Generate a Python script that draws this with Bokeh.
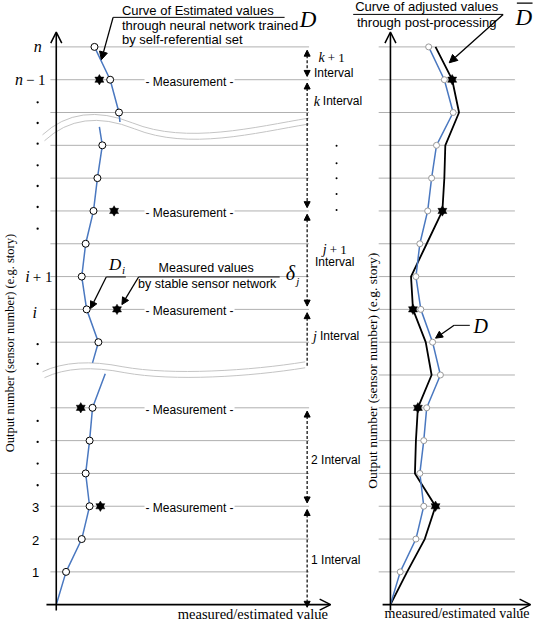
from math import pi
from bokeh.plotting import figure
from bokeh.models import Range1d, Arrow, NormalHead, OpenHead
from bokeh.core.properties import value
from bokeh.embed import file_html
from bokeh.resources import INLINE

# ---------------- data ----------------
rows = list(range(18))                      # 0 = origin ... 17 = n
estimated = [0, 10, 26, 34, 30, 34, 37, 51, 43, 31, 26, 30, 38, 42, 47, 64, 55, 39]   # D
adjusted = [0, 17, 35, 46, 25, 26, 28, 42, 36, 23, 21, 37, 53, 55, 56, 70, 63, 46]    # D-bar
meas_rows = [3, 6, 9, 12, 16]
meas_left = [45, 25, 62, 59, 44]            # measured values (left sketch)
gap_row = 7                                 # row hidden by the lower break in left panel
# curve stubs at the two breaks (row level, value)
stub_upper_rows = [14.71, 14.56]
stub_upper_vals = [65, 44]
stub_lower_rows = [7.37, 7.04]
stub_lower_vals = [37, 50]
tick_rows = [17, 16, 10, 9, 3, 2, 1]
tick_labels = ["n", "n − 1", "i + 1", "i", "3", "2", "1"]
interval_bounds = [(17, 16), (16, 12), (12, 9), (9, None), (6, 3), (3, 0)]

# -------------- helpers (reference-pixel placement) --------------
def LX(r): return r - 62
def RX(r): return r - 403
def LY(r): return (612 - r) / 33.24

BLUE = "#4a78c0"
GRID = "#b0b0b0"
SANS = "Liberation Sans"
SERIF = "Liberation Serif"

p = figure(width=534, height=625, x_range=Range1d(LX(5.1), LX(550)), y_range=Range1d(LY(633.1), LY(-0.08)),
           output_backend="svg", toolbar_location=None, min_border=0,
           x_axis_type=None, y_axis_type=None)
p.extra_x_ranges = {"right": Range1d(RX(5.1), RX(550))}
p.grid.visible = False
p.outline_line_color = None
p.background_fill_color = "white"


def txt(x, y, s, size, font=SANS, style="normal", align="left", baseline="middle",
        rng="default", angle=0, bg=None):
    kw = dict(x=[x], y=[y], text=[s], text_font=value(font), text_font_size=f"{size}px",
              text_font_style=style, text_align=align, text_baseline=baseline,
              text_color="black", angle=angle, x_range_name=rng)
    if bg:
        kw.update(background_fill_color=bg, padding=1)
    p.text(**kw)


# ---------------- LEFT PANEL ----------------
left_grid = [r for r in rows[1:] if r != gap_row]
p.segment(x0=[-6] * len(left_grid), x1=[258] * len(left_grid), y0=left_grid, y1=left_grid,
          line_color=GRID, line_width=1)

# break waves
for dy, dx in [(0, 0), (6, 2)]:
    p.quadratic(x0=[LX(48 + dx)], y0=[LY(136 + dy)], x1=[LX(140 + dx)], y1=[LY(124 + dy)],
                cx=[LX(85 + dx)], cy=[LY(102 + dy)], line_color="#c4c4c4", line_width=1)
    p.bezier(x0=[LX(140 + dx)], y0=[LY(124 + dy)], x1=[LX(320)], y1=[LY(119 + dy)],
             cx0=[LX(195 + dx)], cy0=[LY(146 + dy)], cx1=[LX(265)], cy1=[LY(128 + dy)],
             line_color="#c4c4c4", line_width=1)
    p.quadratic(x0=[LX(48 + dx)], y0=[LY(376 + dy)], x1=[LX(130 + dx)], y1=[LY(371 + dy)],
                cx=[LX(80 + dx)], cy=[LY(361 + dy)], line_color="#c4c4c4", line_width=1)
    p.bezier(x0=[LX(130 + dx)], y0=[LY(371 + dy)], x1=[LX(316)], y1=[LY(366 + dy)],
             cx0=[LX(180 + dx)], cy0=[LY(380 + dy)], cx1=[LX(260)], cy1=[LY(375 + dy)],
             line_color="#c4c4c4", line_width=1)

# estimated curve, broken at the two waves
seg_top_x = [estimated[r] for r in (17, 16, 15)] + [stub_upper_vals[0]]
seg_top_y = [17, 16, 15, stub_upper_rows[0]]
seg_mid_x = [stub_upper_vals[1]] + [estimated[r] for r in range(14, 7, -1)] + [stub_lower_vals[0]]
seg_mid_y = [stub_upper_rows[1]] + list(range(14, 7, -1)) + [stub_lower_rows[0]]
seg_bot_x = [stub_lower_vals[1]] + [estimated[r] for r in range(6, -1, -1)]
seg_bot_y = [stub_lower_rows[1]] + list(range(6, -1, -1))
p.multi_line(xs=[seg_top_x, seg_mid_x, seg_bot_x], ys=[seg_top_y, seg_mid_y, seg_bot_y],
             line_color=BLUE, line_width=1.5)
lc_rows = [r for r in rows[1:] if r != gap_row]
p.scatter(x=[estimated[r] for r in lc_rows], y=lc_rows, marker="circle", size=7,
          fill_color="white", line_color="black", line_width=1)
# measured stars (six-pointed)
for mk in ("triangle", "inverted_triangle"):
    p.scatter(x=meas_left, y=meas_rows, marker=mk, size=9, fill_color="black",
              line_color="black", line_width=0.5)

# axes
p.add_layout(Arrow(x_start=0, y_start=-0.18, x_end=0, y_end=LY(32), line_width=1.6,
                   end=OpenHead(size=11, line_width=1.5)))
p.add_layout(Arrow(x_start=-10, y_start=0, x_end=LX(342), y_end=0, line_width=1.6,
                   end=OpenHead(size=11, line_width=1.5)))

# tick labels
txt(LX(43), tick_rows[0], tick_labels[0], 16, SERIF, "italic", "center")
txt(LX(28), tick_rows[1], "n", 16, SERIF, "italic", "right")
txt(LX(31), tick_rows[1], "− 1", 15, SERIF, "normal", "left")
txt(LX(35), tick_rows[2], "i", 16, SERIF, "italic", "right")
txt(LX(38), tick_rows[2], "+ 1", 15, SERIF, "normal", "left")
txt(LX(40), tick_rows[3] - 0.1, tick_labels[3], 16, SERIF, "italic", "center")
for r, lab in zip(tick_rows[4:], tick_labels[4:]):
    txt(LX(41), r - 0.03, lab, 13, SANS, "normal", "center")
ydots = [15.31, 14.68, 14.05, 13.39, 12.76, 12.12, 11.46, 7.94, 7.34, 5.6, 4.96, 4.3, 3.64]
p.scatter(x=[LX(43)] * len(ydots), y=ydots, marker="circle", size=2.3, fill_color="black",
          line_color=None)

# measurement labels
for r in meas_rows:
    txt(LX(198), r - 0.06, "- Measurement -", 12, SANS, "normal", "center", bg="white")

# interval arrows
for top, bot in interval_bounds:
    yb = bot + 0.1 if bot is not None else LY(370)
    if bot == 0:
        yb = -0.08
    p.add_layout(Arrow(x_start=LX(318), y_start=top - 0.1, x_end=LX(318), y_end=yb,
                       line_dash="3 2", line_width=1.2,
                       start=NormalHead(size=6, fill_color="black", line_width=1),
                       end=NormalHead(size=6, fill_color="black", line_width=1) if bot is not None else None))

txt(LX(336), LY(58), "k", 14, SERIF, "italic", "right")
txt(LX(339), LY(58), "+ 1", 13, SERIF, "normal", "left")
txt(LX(325), LY(73), "Interval", 12, SANS)
txt(LX(331), LY(102), "k", 14, SERIF, "italic", "right")
txt(LX(334), LY(102), "Interval", 12, SANS)
rdots = [13.99, 13.45, 13.0, 12.52, 12.03]
p.scatter(x=[LX(348)] * len(rdots), y=rdots, marker="circle", size=2, fill_color="black",
          line_color=None)
txt(LX(338), LY(252), "j", 14, SERIF, "italic", "right")
txt(LX(341), LY(252), "+ 1", 13, SERIF, "normal", "left")
txt(LX(326), LY(265), "Interval", 12, SANS)
txt(LX(328), LY(340), "j", 14, SERIF, "italic", "right")
txt(LX(331), LY(340), "Interval", 12, SANS)
txt(LX(322), LY(465), "2 Interval", 12, SANS)
txt(LX(322), LY(567), "1 Interval", 12, SANS)

# top-left annotation
txt(LX(129), LY(10), "Curve of Estimated values", 13, SANS)
txt(LX(129), LY(25), "through neural network  trained", 13, SANS)
txt(LX(129), LY(39), "by self-referential set", 13, SANS)
p.segment(x0=[LX(120)], y0=[LY(17)], x1=[LX(295)], y1=[LY(17)], line_color="black", line_width=1)
p.add_layout(Arrow(x_start=LX(120), y_start=LY(17), x_end=LX(108), y_end=LY(60), line_width=1.3,
                   end=NormalHead(size=8, fill_color="black", line_width=1)))
txt(LX(319), LY(19), "D", 23, SERIF, "italic", "center")

# D_i and measured values annotation
txt(LX(122), LY(267), "D", 17, SERIF, "italic", "center")
txt(LX(129), LY(273), "i", 11, SERIF, "italic", "left")
p.segment(x0=[LX(113)], y0=[LY(280)], x1=[LX(133)], y1=[LY(280)], line_color="black", line_width=1)
p.add_layout(Arrow(x_start=LX(113), y_start=LY(280), x_end=LX(97), y_end=LY(312), line_width=1.3,
                   end=NormalHead(size=7, fill_color="black", line_width=1)))
txt(LX(215), LY(271), "Measured values", 12.5, SANS, "normal", "center")
txt(LX(216), LY(287), "by stable sensor network", 12.5, SANS, "normal", "center")
p.segment(x0=[LX(146)], y0=[LY(280)], x1=[LX(290)], y1=[LY(280)], line_color="black", line_width=1)
p.add_layout(Arrow(x_start=LX(146), y_start=LY(280), x_end=LX(129), y_end=LY(308), line_width=1.3,
                   end=NormalHead(size=7, fill_color="black", line_width=1)))
txt(LX(301), LY(276), "δ", 20, SERIF, "italic", "center")
txt(LX(307), LY(284), "j", 11, SERIF, "italic", "left")

# axis titles
txt(LX(15), LY(347), "Output number (sensor number) (e.g. story)", 12.5, SERIF, "normal", "center",
    angle=pi / 2)
txt(LX(186), LY(621), "measured/estimated value", 14.5, SERIF, "normal", "left")

# ---------------- RIGHT PANEL ----------------
rg = rows[1:]
p.segment(x0=[RX(391)] * len(rg), x1=[RX(530)] * len(rg), y0=rg, y1=rg,
          line_color=GRID, line_width=1, x_range_name="right")
p.line(x=adjusted, y=rows, line_color="black", line_width=1.8, x_range_name="right")
p.line(x=estimated, y=rows, line_color=BLUE, line_width=1.5, x_range_name="right")
p.scatter(x=estimated[1:], y=rows[1:], marker="circle", size=6, fill_color="white",
          line_color="#9a9a9a", line_width=1, x_range_name="right")
for mk in ("triangle", "inverted_triangle"):
    p.scatter(x=[adjusted[r] for r in meas_rows], y=meas_rows, marker=mk, size=9,
              fill_color="black", line_color="black", line_width=0.5, x_range_name="right")

p.add_layout(Arrow(x_start=0, y_start=-0.18, x_end=0, y_end=LY(32), line_width=1.6,
                   end=OpenHead(size=11, line_width=1.5), x_range_name="right"))
p.add_layout(Arrow(x_start=-8, y_start=0, x_end=RX(546), y_end=0, line_width=1.6,
                   end=OpenHead(size=11, line_width=1.5), x_range_name="right"))

txt(RX(440), LY(6), "Curve of adjusted values", 13, SANS, "normal", "center", rng="right")
txt(RX(440), LY(22), "through post-processing", 13, SANS, "normal", "center", rng="right")
p.segment(x0=[RX(365)], y0=[LY(14)], x1=[RX(518)], y1=[LY(14)], line_color="black",
          line_width=1, x_range_name="right")
p.add_layout(Arrow(x_start=RX(518), y_start=LY(14), x_end=RX(463), y_end=LY(63), line_width=1.3,
                   end=NormalHead(size=8, fill_color="black", line_width=1), x_range_name="right"))
txt(RX(539), LY(17), "D", 23, SERIF, "italic", "center", rng="right")
p.segment(x0=[RX(532)], y0=[LY(2.5)], x1=[RX(548)], y1=[LY(2.5)], line_color="black",
          line_width=1.2, x_range_name="right")

txt(RX(495), LY(330), "D", 20, SERIF, "italic", "center", rng="right")
p.segment(x0=[RX(468)], y0=[LY(329)], x1=[RX(484)], y1=[LY(329)], line_color="black",
          line_width=1, x_range_name="right")
p.add_layout(Arrow(x_start=RX(468), y_start=LY(329), x_end=RX(449), y_end=LY(342), line_width=1.3,
                   end=NormalHead(size=7, fill_color="black", line_width=1), x_range_name="right"))

txt(RX(385), LY(375), "Output number (sensor number) (e.g. story)", 13.5, SERIF, "normal",
    "center", rng="right", angle=pi / 2)
txt(RX(397), LY(621), "measured/estimated value", 14, SERIF, "normal", "left", rng="right")

open("out.html", "w").write(file_html(p, INLINE))
